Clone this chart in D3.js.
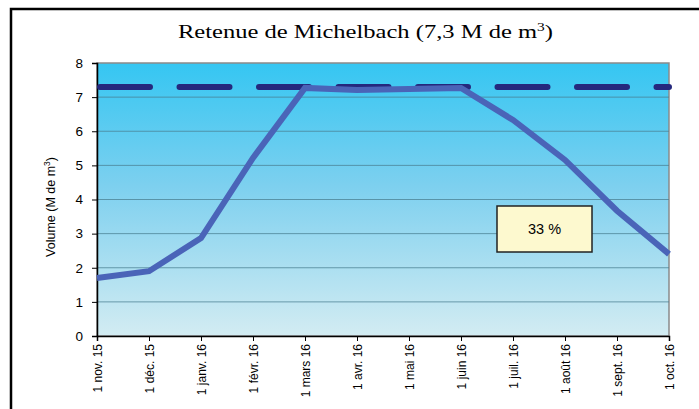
<!DOCTYPE html>
<html>
<head>
<meta charset="utf-8">
<script src="https://cdn.jsdelivr.net/npm/d3@7"></script>
<style>
body { margin: 0; background: #fff; }
svg { display: block; }
</style>
</head>
<body>
<svg width="699" height="409"></svg>
<script>
var months = ['1 nov. 15', '1 déc. 15', '1 janv. 16', '1 févr. 16', '1 mars 16', '1 avr. 16',
  '1 mai 16', '1 juin 16', '1 juil. 16', '1 août 16', '1 sept. 16', '1 oct. 16'];
var volumes = [1.70, 1.90, 2.87, 5.22, 7.27, 7.21, 7.24, 7.27, 6.33, 5.16, 3.67, 2.40];
var capacity = 7.3;
var yTicks = [0, 1, 2, 3, 4, 5, 6, 7, 8];
var fillRate = '33 %';

var svg = d3.select('svg');
var pLeft = 97, pRight = 669, pTop = 63, pBottom = 336;

// outer frame
svg.append('path').attr('d', 'M11,420 V9 H710').attr('fill', 'none').attr('stroke', '#000').attr('stroke-width', 2.5);

var x = d3.scalePoint().domain(months).range([pLeft, pRight]);
var y = d3.scaleLinear().domain([0, 8]).range([pBottom, pTop]);

var defs = svg.append('defs');
var grad = defs.append('linearGradient').attr('id', 'bg').attr('x1', 0).attr('y1', 0).attr('x2', 0).attr('y2', 1);
grad.append('stop').attr('offset', '0%').attr('stop-color', '#35c6f2');
grad.append('stop').attr('offset', '45%').attr('stop-color', '#7dd0ef');
grad.append('stop').attr('offset', '100%').attr('stop-color', '#d3ecf2');

svg.append('rect').attr('x', pLeft).attr('y', pTop).attr('width', pRight - pLeft).attr('height', pBottom - pTop)
  .attr('fill', 'url(#bg)').attr('stroke', '#8a8a8a').attr('stroke-width', 1.5);

// grid
svg.selectAll('.grid').data(yTicks.slice(1, -1)).enter().append('line')
  .attr('x1', pLeft).attr('x2', pRight).attr('y1', function(d){ return y(d); }).attr('y2', function(d){ return y(d); })
  .attr('stroke', '#4a7f92').attr('stroke-opacity', 0.75).attr('stroke-width', 1);

// axes
var yAxis = svg.append('g').attr('transform', 'translate(' + pLeft + ',0)')
  .call(d3.axisLeft(y).tickValues(yTicks).tickSize(5).tickPadding(9));
yAxis.select('.domain').attr('stroke', '#000').attr('stroke-width', 1.5);
yAxis.selectAll('text').attr('font-family', 'Liberation Sans, Arial, sans-serif').attr('font-size', 13.5).attr('fill', '#000');

var xAxis = svg.append('g').attr('transform', 'translate(0,' + pBottom + ')')
  .call(d3.axisBottom(x).tickSize(5).tickPadding(4));
xAxis.select('.domain').attr('stroke', '#000').attr('stroke-width', 1.5);
xAxis.selectAll('text').attr('font-family', 'Liberation Sans, Arial, sans-serif').attr('font-size', 12).attr('fill', '#000')
  .attr('transform', 'rotate(-90)').attr('text-anchor', 'end').attr('x', -8).attr('y', 0).attr('dy', '0.36em');

// capacity line
svg.append('line').attr('x1', pLeft + 3).attr('x2', pRight).attr('y1', y(capacity)).attr('y2', y(capacity))
  .attr('stroke', '#25287d').attr('stroke-width', 6).attr('stroke-linecap', 'round')
  .attr('stroke-dasharray', '50,29.5');

// volume line
var line = d3.line().x(function(d, i){ return x(months[i]); }).y(function(d){ return y(d); });
svg.append('path').datum(volumes).attr('d', line).attr('fill', 'none')
  .attr('stroke', '#4a64b8').attr('stroke-width', 6).attr('stroke-linejoin', 'miter');

// annotation
svg.append('rect').attr('x', 497).attr('y', 206).attr('width', 95).attr('height', 46)
  .attr('fill', '#fdf9cf').attr('stroke', '#222').attr('stroke-width', 1.5);
svg.append('text').attr('x', 544.5).attr('y', 234).attr('text-anchor', 'middle')
  .attr('font-family', 'Liberation Sans, Arial, sans-serif').attr('font-size', 14.5).text(fillRate);

// title
var title = svg.append('text').attr('x', 178).attr('y', 37.5)
  .attr('font-family', 'Liberation Serif, Times New Roman, serif').attr('font-size', 19)
  .attr('textLength', 375).attr('lengthAdjust', 'spacingAndGlyphs');
title.append('tspan').text('Retenue de Michelbach (7,3 M de m');
title.append('tspan').attr('font-size', 12).attr('dy', -7).text('3');
title.append('tspan').attr('dy', 7).text(')');

// y title
var yt = svg.append('text').attr('transform', 'translate(55,207) rotate(-90)')
  .attr('text-anchor', 'middle').attr('font-family', 'Liberation Sans, Arial, sans-serif').attr('font-size', 12.5);
yt.append('tspan').text('Volume (M de m');
yt.append('tspan').attr('font-size', 8.5).attr('dy', -5).text('3');
yt.append('tspan').attr('dy', 5).text(')');
</script>
</body>
</html>
